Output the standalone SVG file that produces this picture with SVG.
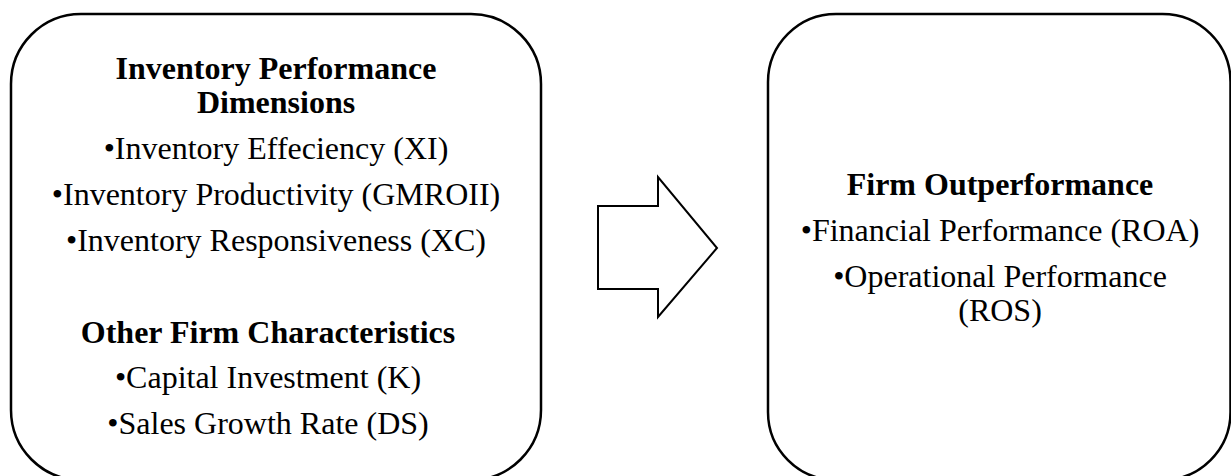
<svg xmlns="http://www.w3.org/2000/svg" width="1231" height="476" viewBox="0 0 1231 476">
<style>
.box{fill:#fff;stroke:#000;stroke-width:2.5}
.arrow{fill:#fff;stroke:#000;stroke-width:2;stroke-linejoin:miter}
text{font-family:"Liberation Serif","Times New Roman",serif;font-size:32px;fill:#000;text-anchor:middle}
.b{font-weight:bold}
</style>
<rect width="1231" height="476" fill="#fff"/>
<g id="node-inventory">
<rect class="box" x="11" y="14" width="530" height="466" rx="70" ry="70"/>
<text class="b" x="276" y="79">Inventory Performance</text>
<text class="b" x="276" y="113">Dimensions</text>
<text x="276" y="159">•Inventory Effeciency (XI)</text>
<text x="276" y="205">•Inventory Productivity (GMROII)</text>
<text x="276" y="251">•Inventory Responsiveness (XC)</text>
<text class="b" x="268" y="343">Other Firm Characteristics</text>
<text x="268" y="388">•Capital Investment (K)</text>
<text x="268" y="434">•Sales Growth Rate (DS)</text>
</g>
<g id="connectors">
<polygon class="arrow" points="598,206 658,206 658,177 717,248 658,317 658,289 598,289"/>
</g>
<g id="node-outperformance">
<rect class="box" x="768" y="14" width="462.5" height="466" rx="68" ry="68"/>
<text class="b" x="1000" y="195">Firm Outperformance</text>
<text x="1000" y="241">•Financial Performance (ROA)</text>
<text x="1000" y="287">•Operational Performance</text>
<text x="1000" y="321">(ROS)</text>
</g>
</svg>
